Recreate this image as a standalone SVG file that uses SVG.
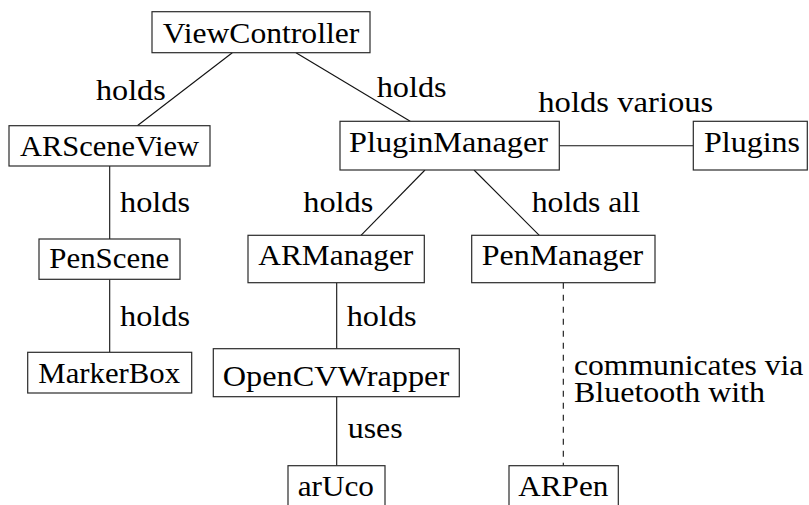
<svg xmlns="http://www.w3.org/2000/svg" width="809" height="505" viewBox="0 0 809 505" font-family="Liberation Serif" font-size="30">
  <defs>
    <style>
      .box { fill: #ffffff; stroke: #2a2a2a; stroke-width: 1.2; }
      .edge { fill: none; stroke: #111111; stroke-width: 1.1; }
      .dashed { stroke-dasharray: 6 6; }
    </style>
  </defs>
  <rect width="809" height="505" fill="#ffffff"/>

  <!-- connectors -->
  <g id="connectors">
    <line class="edge" x1="232.3" y1="52.7" x2="137.3" y2="125.7"/>
    <line class="edge" x1="296" y1="52.7" x2="410.2" y2="121.3"/>
    <line class="edge" x1="559.3" y1="145.7" x2="693.3" y2="145.7"/>
    <line class="edge" x1="425" y1="170" x2="361" y2="235.3"/>
    <line class="edge" x1="474" y1="170" x2="539.3" y2="235.3"/>
    <line class="edge" x1="109.7" y1="166" x2="109.7" y2="239"/>
    <line class="edge" x1="109.7" y1="279.3" x2="109.7" y2="352.3"/>
    <line class="edge" x1="336.7" y1="282.7" x2="336.7" y2="348.7"/>
    <line class="edge" x1="336.7" y1="396.7" x2="336.7" y2="465.7"/>
    <line class="edge dashed" x1="563.3" y1="282.7" x2="563.3" y2="465.7"/>

    <!-- edge labels -->
    <text x="96" y="100" textLength="69.7" lengthAdjust="spacingAndGlyphs">holds</text>
    <text x="376.7" y="97" textLength="70" lengthAdjust="spacingAndGlyphs">holds</text>
    <text x="538.3" y="111.7" textLength="175" lengthAdjust="spacingAndGlyphs">holds various</text>
    <text x="120" y="212" textLength="70" lengthAdjust="spacingAndGlyphs">holds</text>
    <text x="303.3" y="212" textLength="70" lengthAdjust="spacingAndGlyphs">holds</text>
    <text x="531.7" y="212" textLength="108.3" lengthAdjust="spacingAndGlyphs">holds all</text>
    <text x="120" y="326" textLength="70" lengthAdjust="spacingAndGlyphs">holds</text>
    <text x="346.7" y="326" textLength="70" lengthAdjust="spacingAndGlyphs">holds</text>
    <text x="347.7" y="438.3" textLength="55" lengthAdjust="spacingAndGlyphs">uses</text>
    <text><tspan x="574" y="375" textLength="229.3" lengthAdjust="spacingAndGlyphs">communicates via</tspan><tspan x="574" y="401.7" textLength="191" lengthAdjust="spacingAndGlyphs">Bluetooth with</tspan></text>
  </g>

  <!-- nodes -->
  <g id="ViewController">
    <rect class="box" x="152" y="11.7" width="218" height="41"/>
    <text x="162.7" y="43.3" textLength="196.6" lengthAdjust="spacingAndGlyphs">ViewController</text>
  </g>
  <g id="ARSceneView">
    <rect class="box" x="9" y="125.7" width="201" height="40.3"/>
    <text x="20" y="156" textLength="179" lengthAdjust="spacingAndGlyphs">ARSceneView</text>
  </g>
  <g id="PluginManager">
    <rect class="box" x="340" y="121.3" width="219.3" height="48.7"/>
    <text x="349" y="151.7" textLength="199" lengthAdjust="spacingAndGlyphs">PluginManager</text>
  </g>
  <g id="Plugins">
    <rect class="box" x="693.3" y="121.3" width="114" height="48.7"/>
    <text x="704" y="151.7" textLength="96" lengthAdjust="spacingAndGlyphs">Plugins</text>
  </g>
  <g id="PenScene">
    <rect class="box" x="39" y="239" width="141" height="40.3"/>
    <text x="49.3" y="268.3" textLength="120" lengthAdjust="spacingAndGlyphs">PenScene</text>
  </g>
  <g id="ARManager">
    <rect class="box" x="248" y="235.3" width="176.3" height="47.4"/>
    <text x="258.3" y="265" textLength="155" lengthAdjust="spacingAndGlyphs">ARManager</text>
  </g>
  <g id="PenManager">
    <rect class="box" x="471.7" y="235.3" width="183.3" height="47.4"/>
    <text x="481.7" y="265" textLength="161.6" lengthAdjust="spacingAndGlyphs">PenManager</text>
  </g>
  <g id="MarkerBox">
    <rect class="box" x="27.7" y="352.3" width="164" height="40.7"/>
    <text x="38.3" y="382.7" textLength="141.7" lengthAdjust="spacingAndGlyphs">MarkerBox</text>
  </g>
  <g id="OpenCVWrapper">
    <rect class="box" x="213.3" y="348.7" width="246" height="48"/>
    <text x="222.7" y="386" textLength="226.5" lengthAdjust="spacingAndGlyphs">OpenCVWrapper</text>
  </g>
  <g id="arUco">
    <rect class="box" x="288" y="465.7" width="97" height="41"/>
    <text x="297.7" y="496" textLength="76.3" lengthAdjust="spacingAndGlyphs">arUco</text>
  </g>
  <g id="ARPen">
    <rect class="box" x="509" y="465.7" width="109.3" height="41"/>
    <text x="518.3" y="496" textLength="90" lengthAdjust="spacingAndGlyphs">ARPen</text>
  </g>
</svg>
